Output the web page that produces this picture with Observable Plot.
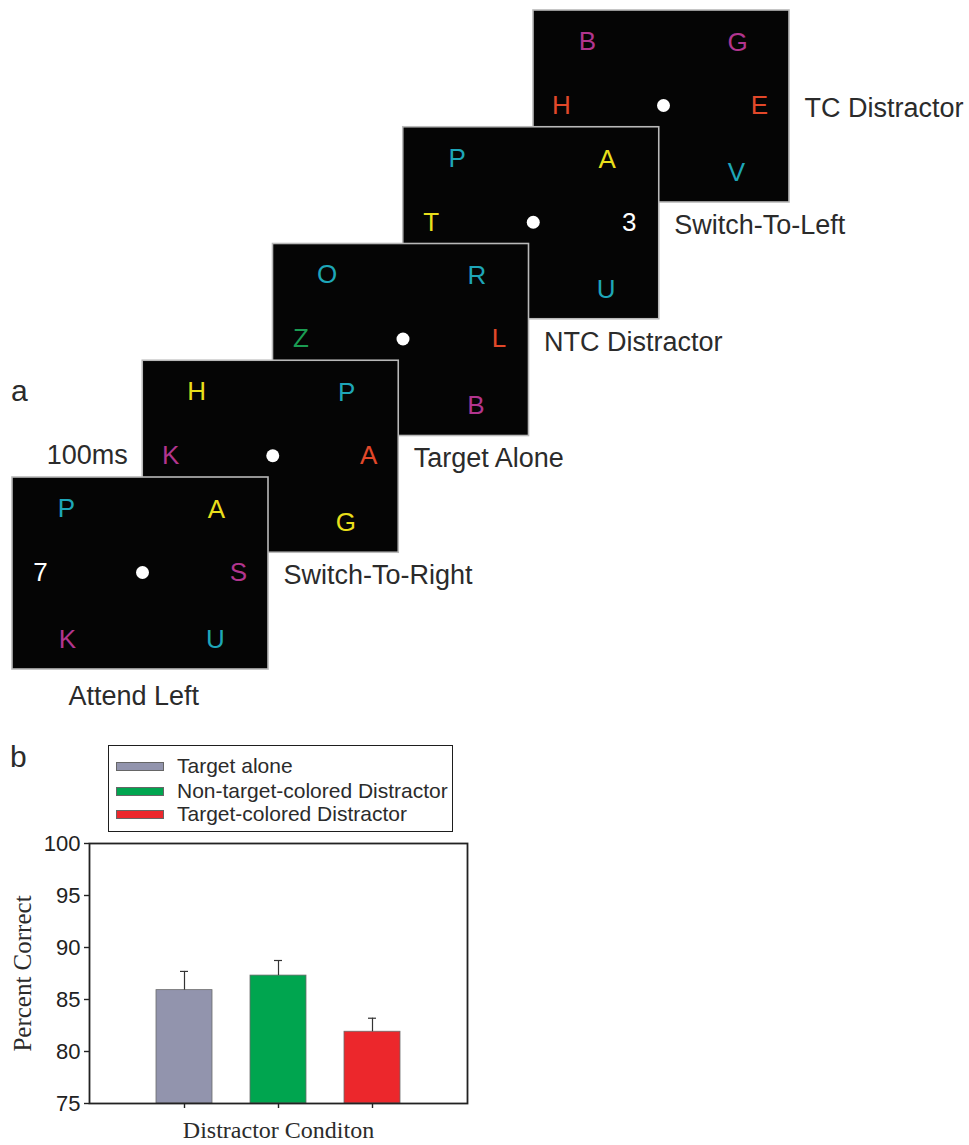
<!DOCTYPE html>
<html>
<head>
<meta charset="utf-8">
<script src="https://cdn.jsdelivr.net/npm/d3@7"></script>
<script src="https://cdn.jsdelivr.net/npm/@observablehq/plot@0.6"></script>
<style>
  body { margin: 0; background: #fff; }
  #fig { position: relative; width: 969px; height: 1145px; font-family: "Liberation Sans", Arial, sans-serif; color: #2b2b2b; overflow: hidden; }
  #partA { position: absolute; left: 0; top: 0; }
  #partB { position: absolute; left: 0; top: 720px; }
  .plab { position: absolute; font-size: 30px; line-height: 34px; color: #2b2b2b; }
  #legend { position: absolute; left: 108px; top: 745px; width: 343px; height: 85px; border: 1.5px solid #1e1e1e; background: #fff; }
  .lrow { position: absolute; left: 0; height: 24px; width: 100%; }
  .lsw { position: absolute; left: 7px; top: 8px; width: 46px; height: 7px; border: 0.8px solid #666; }
  .ltx { position: absolute; left: 68px; top: 0; font-size: 21px; line-height: 24px; color: #2b2b2b; white-space: nowrap; }
</style>
</head>
<body>
<div id="fig">
  <div id="partA"></div>
  <div class="plab" style="left:11px; top:374px;">a</div>
  <div class="plab" style="left:10px; top:740px;">b</div>
  <div id="legend"></div>
  <div id="partB"></div>
</div>
<script>
// ---------- Data: part a (display sequence) ----------
const panelIds = [0, 1, 2, 3, 4];                 // front (Attend Left) to back (TC Distractor)
const bottomLabel = "Attend Left";                  // under the front panel
const sideLabels = ["Switch-To-Right", "Target Alone", "NTC Distractor", "Switch-To-Left", "TC Distractor"];
const timeLabel = "100ms";
const letterPanel = [0, 0, 0, 0, 0, 0,  1, 1, 1, 1, 1,  2, 2, 2, 2, 2,  3, 3, 3, 3, 3,  4, 4, 4, 4, 4];
const letterSlot  = ["TL","TR","ML","MR","BL","BR", "TL","TR","ML","MR","BR", "TL","TR","ML","MR","BR", "TL","TR","ML","MR","BR", "TL","TR","ML","MR","BR"];
const letterChar  = ["P","A","7","S","K","U", "H","P","K","A","G", "O","R","Z","L","B", "P","A","T","3","U", "B","G","H","E","V"];
const letterHue   = ["teal","gold","blank","plum","plum","teal",
                     "gold","teal","plum","vermil","gold",
                     "teal","teal","jade","vermil","plum",
                     "teal","gold","gold","blank","teal",
                     "plum","plum","vermil","vermil","teal"];
const hueNames  = ["teal", "gold", "plum", "vermil", "jade", "blank"];
const hueColors = ["#1ea6b8", "#e9df1b", "#b2358f", "#e2482a", "#1b9c52", "#ffffff"];

// ---------- Data: part b (bar chart) ----------
const conditions = ["Target alone", "Non-target-colored Distractor", "Target-colored Distractor"];
const means = [85.9, 87.3, 81.9];
const errors = [1.8, 1.45, 1.3];
const barColors = ["#9294ad", "#00a54f", "#ec272c"];
const yTicks = [75, 80, 85, 90, 95, 100];
const xTitle = "Distractor Conditon";
const yTitle = "Percent Correct";

// ---------- Layout of part a ----------
const W = 969, HA = 720;
const PW = 256, PH = 192;
const ORIGIN = [12, 477], STEP = [130.25, -116.75];
const SLOT = { TL: [54, 31], TR: [204, 32], ML: [28, 95], C: [130, 95], MR: [226, 95], BL: [55, 162], BR: [203, 162] };
const px = i => ORIGIN[0] + i * STEP[0];
const py = i => ORIGIN[1] + i * STEP[1];

const letters = letterChar.map((c, k) => ({ panel: letterPanel[k], slot: letterSlot[k], ch: c, hue: letterHue[k] }));
const backToFront = panelIds.slice().reverse();
const sideTable = sideLabels.map((s, i) => ({ panel: i, text: s }));

const partA = Plot.plot({
  width: W, height: HA, margin: 0,
  x: { domain: [0, W], range: [0, W], axis: null },
  y: { domain: [0, HA], range: [0, HA], axis: null },
  color: { type: "ordinal", domain: hueNames, range: hueColors },
  style: { background: "transparent", overflow: "visible" },
  marks: [
    Plot.rect(backToFront, { x1: i => px(i), x2: i => px(i) + PW, y1: i => py(i), y2: i => py(i) + PH,
      fill: "#050505", stroke: "#b9b9b9", strokeWidth: 1.6 }),
    Plot.dot(panelIds, { x: i => px(i) + SLOT.C[0], y: i => py(i) + SLOT.C[1], r: 6.5, fill: "#ffffff", stroke: "none" }),
    Plot.text(letters, { x: d => px(d.panel) + SLOT[d.slot][0], y: d => py(d.panel) + SLOT[d.slot][1],
      text: "ch", fill: "hue", fontSize: 26, fontFamily: "Liberation Sans" }),
    Plot.text(sideTable, { x: d => px(d.panel) + PW + 15, y: d => py(d.panel) + SLOT.ML[1] + 3,
      text: "text", textAnchor: "start", fontSize: 27, fontFamily: "Liberation Sans", fill: "#2b2b2b" }),
    Plot.text([bottomLabel], { x: () => px(0) + 56, y: () => py(0) + PH + 27, text: d => d,
      textAnchor: "start", fontSize: 27, fontFamily: "Liberation Sans", fill: "#2b2b2b" }),
    Plot.text([timeLabel], { x: () => px(1) - 15, y: () => py(1) + SLOT.ML[1], text: d => d,
      textAnchor: "end", fontSize: 27, fontFamily: "Liberation Sans", fill: "#2b2b2b" })
  ]
});
document.getElementById("partA").appendChild(partA);

// ---------- Legend ----------
const legend = document.getElementById("legend");
const rowTops = [8, 33, 56];
conditions.forEach((c, i) => {
  const row = document.createElement("div");
  row.className = "lrow";
  row.style.top = rowTops[i] + "px";
  const sw = document.createElement("div");
  sw.className = "lsw";
  sw.style.background = barColors[i];
  const tx = document.createElement("div");
  tx.className = "ltx";
  tx.textContent = c;
  row.appendChild(sw); row.appendChild(tx);
  legend.appendChild(row);
});

// ---------- Part b ----------
const table = conditions.map((c, i) => ({ cond: c, mean: means[i], err: errors[i] }));
const partB = Plot.plot({
  width: W, height: 425,
  marginLeft: 89, marginRight: 502, marginTop: 123, marginBottom: 42,
  x: { type: "band", domain: conditions, paddingInner: 0.4, paddingOuter: 0.7, axis: null },
  y: { domain: [75, 100], axis: null },
  color: { domain: conditions, range: barColors },
  style: { background: "transparent", overflow: "visible", fontFamily: "Liberation Sans", fontSize: "22px", color: "#222" },
  marks: [
    Plot.barY(table, { x: "cond", y1: 75, y2: "mean", fill: "cond", stroke: "#6a6a6a", strokeWidth: 0.8 }),
    Plot.ruleX(table, { x: "cond", y1: "mean", y2: d => d.mean + d.err, stroke: "#333", strokeWidth: 1.2 }),
    Plot.tickY(table, { x: "cond", y: d => d.mean + d.err, insetLeft: 24, insetRight: 24, stroke: "#333", strokeWidth: 1.2 }),
    Plot.axisY({ ticks: yTicks, tickSize: 5, tickPadding: 4, tickFormat: d => String(d), label: null, fontSize: 22, stroke: "#222", strokeWidth: 1.4 }),
    Plot.axisX({ tickSize: 5, tickFormat: () => "", label: null, stroke: "#222", strokeWidth: 1.4 }),
    Plot.frame({ stroke: "#222", strokeWidth: 1.8 }),
    Plot.text([yTitle], { text: d => d, frameAnchor: "left", dx: -67, rotate: -90, textAnchor: "middle", lineAnchor: "middle",
      fontFamily: "Liberation Serif", fontSize: 25, fill: "#2b2b2b" }),
    Plot.text([xTitle], { text: d => d, frameAnchor: "bottom", dy: 27, textAnchor: "middle", lineAnchor: "middle",
      fontFamily: "Liberation Serif", fontSize: 24, fill: "#2b2b2b" })
  ]
});
document.getElementById("partB").appendChild(partB);
</script>
</body>
</html>
